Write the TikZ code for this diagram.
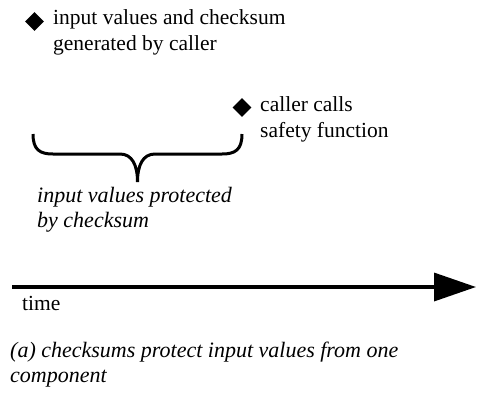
\documentclass[tikz,border=0pt]{standalone}
\usepackage{fontspec}
\setmainfont{Liberation Serif}
\usetikzlibrary{shapes.geometric,arrows.meta}
\begin{document}
\begin{tikzpicture}[x=1pt, y=-1pt,
    every node/.style={font=\fontsize{21.5}{25.5}\selectfont, inner sep=0pt},
    event/.style={diamond, fill=black, minimum size=19pt},
    note/.style={anchor=base west, align=left},
    remark/.style={note, font=\fontsize{22}{25}\selectfont\itshape}]
  \useasboundingbox (0,0) rectangle (478,392);
  % First event
  \node[event] (gen) at (34.5,21.5) {};
  \node[note] (gentext) at (53,50) {input values and checksum\\generated by caller};
  % Second event
  \node[event] (call) at (242,107.5) {};
  \node[note] (calltext) at (260,137) {caller calls\\safety function};
  % Brace
  \coordinate (bl) at (33,134);
  \coordinate (br) at (242,134);
  \coordinate (tip) at (137.5,182);
  \draw[line width=3pt] (bl) .. controls (33,150) and (40,154) .. (53,154) -- (120,154)
    .. controls (132,154) and (137.5,165) .. (tip)
    .. controls (137.5,165) and (143,154) .. (155,154) -- (222,154)
    .. controls (235,154) and (242,150) .. (br);
  \node[remark] (prot) at (37,227) {input values protected\\by checksum};
  % Time axis
  \coordinate (t0) at (12,287);
  \coordinate (t1) at (476,287);
  \draw[line width=3.5pt, -{Triangle[length=42pt, width=28pt]}] (t0) -- (t1);
  \node[note] (time) at (22,310) {time};
  % Caption
  \node[remark] (cap) at (10,382) {(a) checksums protect input values from one\\component};
\end{tikzpicture}
\end{document}
